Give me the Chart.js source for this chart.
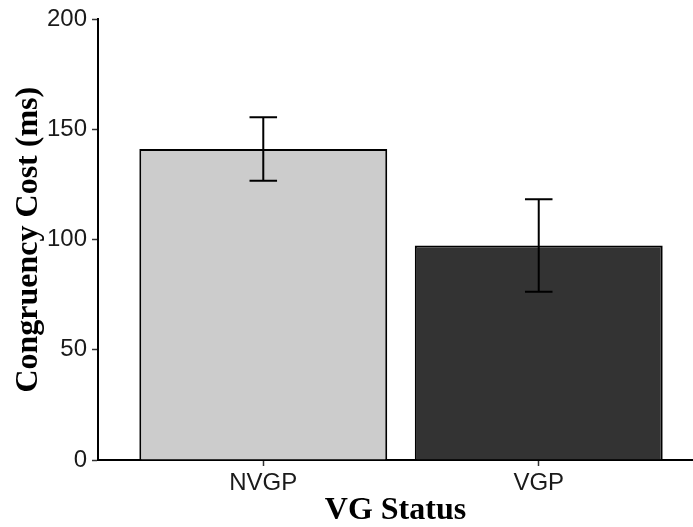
<!DOCTYPE html>
<html>
<head>
<meta charset="utf-8">
<script src="https://cdn.jsdelivr.net/npm/chart.js@4"></script>
<style>
  body { margin: 0; background: #fff; }
  #wrap { width: 693px; height: 527px; }
</style>
</head>
<body>
<div id="wrap"><canvas id="chart" width="693" height="527"></canvas></div>
<script>
/* --------------- Data --------------------- */
const categories = ["NVGP", "VGP"];
const means = [141.2, 97.4];
const errors = [14.4, 21.0];
const barColors = ["#cccccc", "#333333"];
const yTicks = [0, 50, 100, 150, 200];

const tickFont = { family: "'Liberation Sans', Arial, sans-serif", size: 24 };
const titleFont = { family: "'Liberation Serif', 'Times New Roman', serif", size: 32, weight: "bold", lineHeight: 1 };

/* --------------- Error bars, drawn through the scales --------------------- */
const errorBars = {
  id: "errorBars",
  afterDatasetsDraw(chart) {
    const ctx = chart.ctx;
    const xs = chart.scales.x, ys = chart.scales.y;
    ctx.save();
    ctx.strokeStyle = "#000";
    ctx.lineWidth = 2;
    means.forEach((m, i) => {
      const x = xs.getPixelForValue(i + 1);
      const half = xs.getPixelForValue(i + 1.05) - x;
      const top = ys.getPixelForValue(m + errors[i]);
      const bot = ys.getPixelForValue(m - errors[i]);
      ctx.beginPath();
      ctx.moveTo(x, top); ctx.lineTo(x, bot);
      ctx.moveTo(x - half, top); ctx.lineTo(x + half, top);
      ctx.moveTo(x - half, bot); ctx.lineTo(x + half, bot);
      ctx.stroke();
    });
    ctx.restore();
  }
};

new Chart(document.getElementById("chart"), {
  type: "bar",
  plugins: [errorBars],
  data: {
    datasets: [{
      data: means.map((m, i) => ({ x: i + 1, y: m })),
      backgroundColor: barColors,
      borderColor: "#000",
      borderWidth: 2,
      barPercentage: 0.9,
      categoryPercentage: 1
    }]
  },
  options: {
    responsive: false,
    animation: false,
    layout: { padding: { top: 19, left: 0, right: 0, bottom: 0 } },
    plugins: { legend: { display: false }, tooltip: { enabled: false } },
    scales: {
      x: {
        type: "linear",
        min: 0.4,
        max: 2.56,
        offset: false,
        afterBuildTicks: (s) => { s.ticks = categories.map((_, i) => ({ value: i + 1 })); },
        afterFit: (s) => { s.height = 67; },
        ticks: {
          callback: (v) => categories[v - 1],
          font: tickFont,
          color: "#1a1a1a",
          padding: 3,
          maxRotation: 0,
          autoSkip: false
        },
        grid: { offset: false, drawOnChartArea: false, drawTicks: true, tickLength: 6, tickColor: "#333", tickWidth: 1.5 },
        border: { display: true, color: "#000", width: 2 },
        title: { display: true, text: "VG Status", font: titleFont, color: "#000", padding: { top: 0, bottom: 0 } }
      },
      y: {
        min: 0,
        max: 200,
        afterBuildTicks: (s) => { s.ticks = yTicks.map(v => ({ value: v })); },
        afterFit: (s) => { s.width = 98; },
        ticks: { font: tickFont, color: "#1a1a1a", padding: 5 },
        grid: { drawOnChartArea: false, drawTicks: true, tickLength: 6, tickColor: "#333", tickWidth: 1.5 },
        border: { display: true, color: "#000", width: 2 },
        title: { display: true, text: "Congruency Cost (ms)", font: titleFont, color: "#000", padding: { top: 13, bottom: 0 } }
      }
    }
  }
});
</script>
</body>
</html>
